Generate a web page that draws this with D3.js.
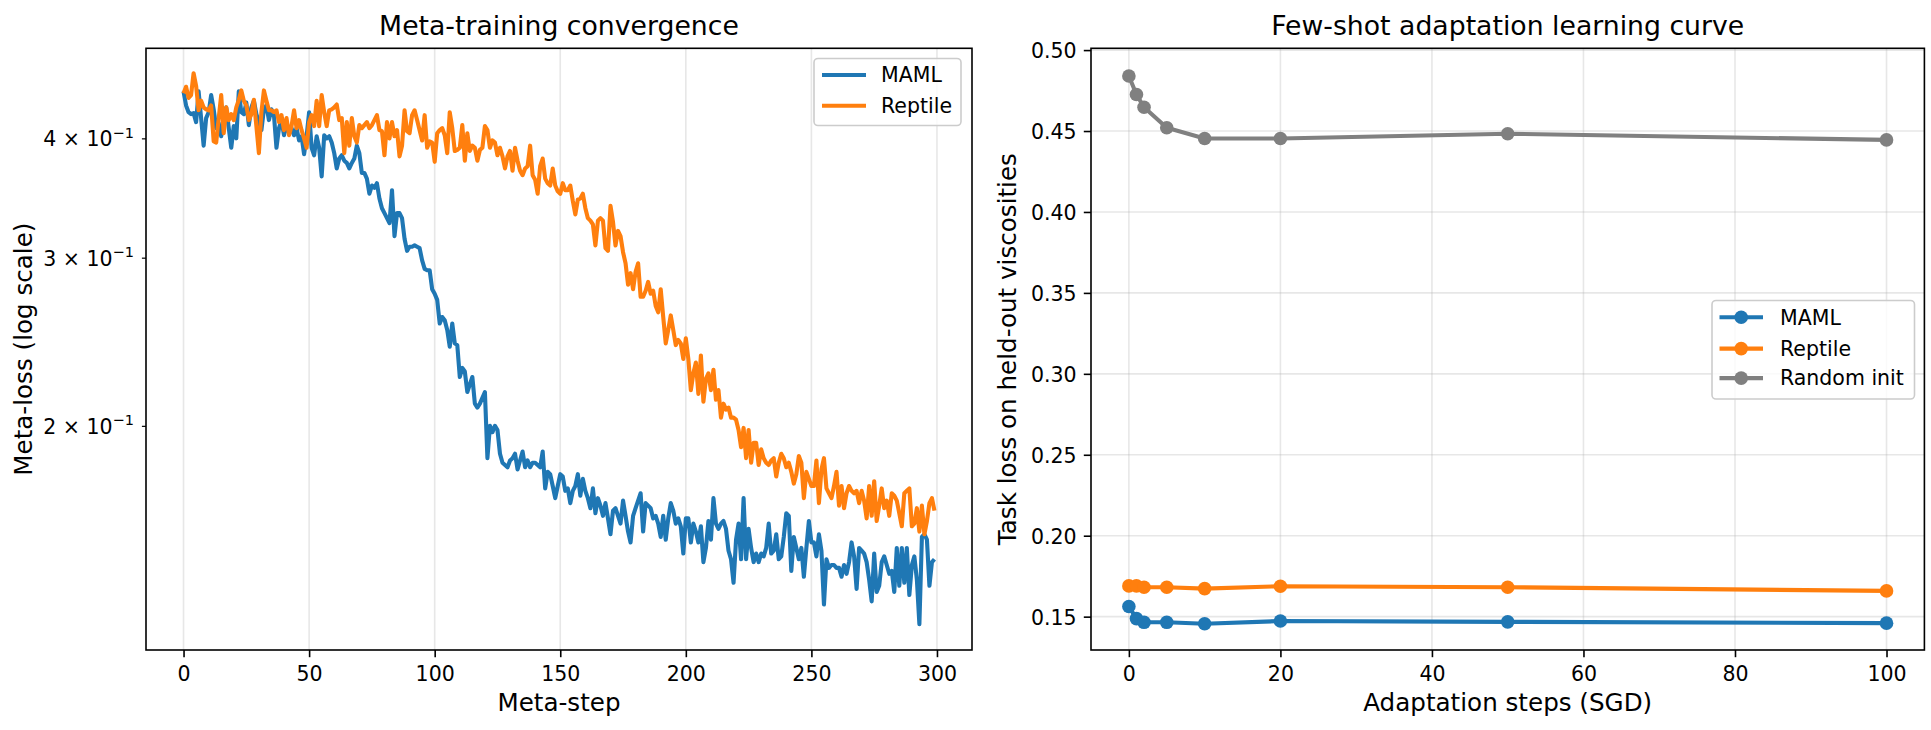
<!DOCTYPE html>
<html><head><meta charset="utf-8">
<script src="https://cdn.jsdelivr.net/npm/d3@7"></script>
<style>body{margin:0;background:#fff} svg{display:block} text{font-family:"DejaVu Sans",sans-serif}</style>
</head><body><svg id="c" width="1931" height="730"></svg>
<script>
// ---------- data ----------
const metaSteps = d3.range(300);
const mamlLoss = [
0.448,0.433,0.426,0.424,0.425,0.416,0.448,0.420,0.393,0.420,
0.426,0.444,0.429,0.410,0.415,0.402,0.418,0.431,0.410,0.391,
0.412,0.400,0.448,0.426,0.424,0.436,0.413,0.431,0.438,0.424,
0.416,0.408,0.429,0.433,0.418,0.429,0.423,0.391,0.410,0.418,
0.403,0.416,0.405,0.410,0.403,0.410,0.398,0.402,0.385,0.402,
0.426,0.391,0.384,0.402,0.391,0.365,0.403,0.400,0.402,0.396,
0.386,0.372,0.381,0.384,0.379,0.377,0.372,0.377,0.381,0.393,
0.386,0.368,0.368,0.363,0.350,0.357,0.355,0.359,0.346,0.338,
0.334,0.330,0.326,0.353,0.316,0.334,0.334,0.330,0.314,0.305,
0.308,0.308,0.309,0.308,0.307,0.298,0.292,0.291,0.291,0.278,
0.275,0.271,0.256,0.260,0.258,0.252,0.242,0.256,0.244,0.243,
0.225,0.230,0.228,0.217,0.221,0.225,0.211,0.209,0.211,0.214,
0.217,0.185,0.200,0.197,0.200,0.198,0.187,0.183,0.182,0.181,
0.184,0.185,0.187,0.180,0.184,0.188,0.181,0.184,0.181,0.183,
0.183,0.182,0.181,0.188,0.172,0.179,0.178,0.173,0.168,0.173,
0.178,0.177,0.171,0.172,0.166,0.171,0.173,0.178,0.169,0.176,
0.171,0.168,0.164,0.172,0.162,0.168,0.165,0.161,0.166,0.160,
0.154,0.163,0.164,0.161,0.158,0.167,0.161,0.155,0.151,0.161,
0.164,0.167,0.170,0.155,0.166,0.165,0.164,0.160,0.161,0.158,
0.153,0.161,0.152,0.160,0.166,0.163,0.158,0.160,0.157,0.147,
0.160,0.160,0.151,0.158,0.155,0.151,0.157,0.144,0.149,0.159,
0.152,0.168,0.158,0.156,0.158,0.159,0.156,0.148,0.145,0.137,
0.152,0.158,0.145,0.168,0.145,0.156,0.149,0.144,0.147,0.144,
0.147,0.146,0.149,0.158,0.147,0.148,0.154,0.145,0.146,0.153,
0.162,0.161,0.141,0.153,0.149,0.145,0.149,0.139,0.149,0.159,
0.151,0.151,0.146,0.154,0.148,0.130,0.145,0.142,0.143,0.143,
0.142,0.142,0.139,0.143,0.140,0.144,0.151,0.146,0.135,0.149,
0.148,0.147,0.144,0.138,0.131,0.147,0.134,0.136,0.144,0.146,
0.143,0.140,0.141,0.134,0.149,0.136,0.149,0.137,0.149,0.133,
0.143,0.146,0.138,0.124,0.153,0.154,0.152,0.136,0.144,0.145];
const reptileLoss = [
0.446,0.453,0.441,0.444,0.468,0.454,0.428,0.438,0.431,0.429,
0.428,0.433,0.397,0.396,0.420,0.444,0.405,0.431,0.418,0.424,
0.418,0.431,0.439,0.449,0.438,0.433,0.418,0.424,0.439,0.412,
0.386,0.426,0.449,0.438,0.428,0.428,0.426,0.428,0.416,0.423,
0.408,0.420,0.403,0.412,0.428,0.410,0.418,0.408,0.400,0.391,
0.416,0.423,0.412,0.438,0.412,0.444,0.426,0.412,0.428,0.429,
0.431,0.434,0.418,0.420,0.386,0.416,0.393,0.420,0.402,0.396,
0.413,0.410,0.413,0.416,0.410,0.413,0.418,0.423,0.408,0.407,
0.384,0.416,0.400,0.416,0.402,0.408,0.383,0.393,0.428,0.407,
0.405,0.423,0.428,0.418,0.408,0.398,0.423,0.391,0.397,0.396,
0.378,0.405,0.408,0.410,0.403,0.386,0.426,0.410,0.388,0.389,
0.391,0.413,0.379,0.405,0.388,0.393,0.391,0.379,0.389,0.391,
0.412,0.408,0.391,0.398,0.396,0.384,0.391,0.383,0.372,0.383,
0.388,0.370,0.391,0.379,0.370,0.366,0.372,0.374,0.393,0.366,
0.362,0.350,0.374,0.381,0.363,0.359,0.357,0.372,0.357,0.352,
0.350,0.359,0.353,0.353,0.357,0.344,0.333,0.345,0.346,0.350,
0.338,0.330,0.328,0.325,0.309,0.328,0.330,0.328,0.307,0.305,
0.340,0.327,0.309,0.320,0.316,0.304,0.296,0.281,0.289,0.278,
0.290,0.296,0.273,0.273,0.277,0.283,0.275,0.277,0.267,0.263,
0.278,0.260,0.244,0.252,0.261,0.252,0.243,0.246,0.244,0.235,
0.247,0.235,0.218,0.227,0.233,0.216,0.237,0.212,0.224,0.227,
0.218,0.229,0.213,0.218,0.204,0.211,0.208,0.209,0.204,0.204,
0.203,0.198,0.190,0.199,0.185,0.198,0.183,0.192,0.192,0.182,
0.189,0.185,0.183,0.182,0.184,0.185,0.177,0.183,0.187,0.185,
0.181,0.183,0.179,0.174,0.178,0.186,0.183,0.168,0.179,0.176,
0.173,0.173,0.184,0.166,0.180,0.185,0.172,0.170,0.168,0.173,
0.179,0.165,0.173,0.164,0.170,0.173,0.171,0.170,0.171,0.166,
0.171,0.167,0.160,0.173,0.161,0.175,0.159,0.165,0.172,0.164,
0.167,0.161,0.170,0.169,0.167,0.162,0.157,0.170,0.171,0.172,
0.157,0.158,0.164,0.155,0.165,0.154,0.159,0.166,0.168,0.163];

const adaptSteps   = [0, 1, 2, 5, 10, 20, 50, 100];
const adaptMaml    = [0.1563, 0.1488, 0.1465, 0.1465, 0.1456, 0.1473, 0.1468, 0.1460];
const adaptReptile = [0.1690, 0.1690, 0.1682, 0.1682, 0.1673, 0.1688, 0.1682, 0.1659];
const adaptRandom  = [0.4840, 0.4726, 0.4647, 0.4520, 0.4454, 0.4454, 0.4483, 0.4445];

const leftXTicks  = [0, 50, 100, 150, 200, 250, 300];
const leftYTicks  = [0.2, 0.3, 0.4];
const rightXTicks = [0, 20, 40, 60, 80, 100];
const rightYTicks = [0.15, 0.20, 0.25, 0.30, 0.35, 0.40, 0.45, 0.50];

const C_MAML = "#1f77b4", C_REP = "#ff7f0e", C_RAND = "#808080";

// ---------- layout ----------
const svg = d3.select("#c");
svg.append("rect").attr("width",1931).attr("height",730).attr("fill","#fff");
const L = {x0:146, x1:972, y0:48.3, y1:650};
const R = {x0:1091, x1:1924.4, y0:48.3, y1:650};
const FS_TICK = 20.5, FS_LAB = 24.6, FS_TITLE = 26.7;
const MR = 6.8;

const xL = d3.scaleLinear().domain([-14.95, 313.95]).range([L.x0, L.x1]);
const yL = d3.scaleLog().domain([0.1165, 0.497]).range([L.y1, L.y0]);
const xR = d3.scaleLinear().domain([-5, 105]).range([R.x0, R.x1]);
const yR = d3.scaleLinear().domain([0.1294, 0.5011]).range([R.y1, R.y0]);

function gridV(g, xs, ticks, A){
  g.selectAll(null).data(ticks).enter().append("line")
   .attr("x1",d=>xs(d)).attr("x2",d=>xs(d)).attr("y1",A.y0).attr("y2",A.y1)
   .attr("stroke","#b0b0b0").attr("stroke-opacity",0.3).attr("stroke-width",1.6);
}
function gridH(g, ys, ticks, A){
  g.selectAll(null).data(ticks).enter().append("line")
   .attr("y1",d=>ys(d)).attr("y2",d=>ys(d)).attr("x1",A.x0).attr("x2",A.x1)
   .attr("stroke","#b0b0b0").attr("stroke-opacity",0.3).attr("stroke-width",1.6);
}
function styleAxis(g, lw){
  g.select(".domain").remove();
  g.selectAll(".tick line").attr("stroke","#000").attr("stroke-width",lw);
  g.selectAll(".tick text").attr("font-size",FS_TICK).attr("fill","#000")
   .attr("font-family","DejaVu Sans, sans-serif");
}

// ---------- left panel ----------
const gl = svg.append("g");
gridV(gl, xL, leftXTicks, L);
const lineL = d3.line().x((d,i)=>xL(metaSteps[i])).y(d=>yL(d));
gl.append("path").datum(mamlLoss).attr("d",lineL).attr("fill","none")
  .attr("stroke",C_MAML).attr("stroke-width",4.1).attr("stroke-linejoin","round");
gl.append("path").datum(reptileLoss).attr("d",lineL).attr("fill","none")
  .attr("stroke",C_REP).attr("stroke-width",4.1).attr("stroke-linejoin","round");

const axLB = gl.append("g").attr("transform",`translate(0,${L.y1})`)
  .call(d3.axisBottom(xL).tickValues(leftXTicks).tickSize(7.2).tickPadding(9));
styleAxis(axLB, 1.6);
const axLL = gl.append("g").attr("transform",`translate(${L.x0},0)`)
  .call(d3.axisLeft(yL).tickValues(leftYTicks).tickSize(4.1).tickPadding(8));
styleAxis(axLL, 1.2);
axLL.selectAll(".tick text").each(function(d){
  const t = d3.select(this);
  const m = Math.round(d*10);
  t.text(null).attr("dy","0.36em");
  t.append("tspan").text(m + " \u00d7 10");
  t.append("tspan").attr("dy",-8.5).attr("font-size",14.5).text("\u22121");
});
gl.append("rect").attr("x",L.x0).attr("y",L.y0).attr("width",L.x1-L.x0).attr("height",L.y1-L.y0)
  .attr("fill","none").attr("stroke","#000").attr("stroke-width",1.6);

gl.append("text").attr("x",(L.x0+L.x1)/2).attr("y",35).attr("text-anchor","middle")
  .attr("font-size",FS_TITLE).text("Meta-training convergence");
gl.append("text").attr("x",(L.x0+L.x1)/2).attr("y",711).attr("text-anchor","middle")
  .attr("font-size",FS_LAB).text("Meta-step");
gl.append("text").attr("transform",`translate(32,${(L.y0+L.y1)/2}) rotate(-90)`)
  .attr("text-anchor","middle").attr("font-size",FS_LAB).text("Meta-loss (log scale)");

// left legend
const legL = gl.append("g");
legL.append("rect").attr("x",814).attr("y",58.5).attr("width",147).attr("height",67)
  .attr("rx",4).attr("fill","#fff").attr("fill-opacity",0.8).attr("stroke","#cccccc").attr("stroke-width",1.6);
[["MAML",C_MAML,75],["Reptile",C_REP,105.8]].forEach(([name,col,yy])=>{
  legL.append("line").attr("x1",822).attr("x2",866).attr("y1",yy).attr("y2",yy)
    .attr("stroke",col).attr("stroke-width",4.1);
  legL.append("text").attr("x",881).attr("y",yy).attr("dy","0.36em")
    .attr("font-size",FS_TICK).text(name);
});

// ---------- right panel ----------
const gr = svg.append("g");
gridV(gr, xR, rightXTicks, R);
gridH(gr, yR, rightYTicks, R);
const lineR = d3.line().x((d,i)=>xR(adaptSteps[i])).y(d=>yR(d));
[[adaptMaml,C_MAML],[adaptReptile,C_REP],[adaptRandom,C_RAND]].forEach(([arr,col])=>{
  gr.append("path").datum(arr).attr("d",lineR).attr("fill","none")
    .attr("stroke",col).attr("stroke-width",4.1).attr("stroke-linejoin","round");
  gr.selectAll(null).data(arr).enter().append("circle")
    .attr("cx",(d,i)=>xR(adaptSteps[i])).attr("cy",d=>yR(d)).attr("r",MR).attr("fill",col);
});
const axRB = gr.append("g").attr("transform",`translate(0,${R.y1})`)
  .call(d3.axisBottom(xR).tickValues(rightXTicks).tickSize(7.2).tickPadding(9));
styleAxis(axRB, 1.6);
const axRL = gr.append("g").attr("transform",`translate(${R.x0},0)`)
  .call(d3.axisLeft(yR).tickValues(rightYTicks).tickSize(7.2).tickPadding(7.2).tickFormat(d3.format(".2f")));
styleAxis(axRL, 1.6);
axRL.selectAll(".tick text").attr("dy","0.36em");
gr.append("rect").attr("x",R.x0).attr("y",R.y0).attr("width",R.x1-R.x0).attr("height",R.y1-R.y0)
  .attr("fill","none").attr("stroke","#000").attr("stroke-width",1.6);

gr.append("text").attr("x",(R.x0+R.x1)/2).attr("y",35).attr("text-anchor","middle")
  .attr("font-size",FS_TITLE).text("Few-shot adaptation learning curve");
gr.append("text").attr("x",(R.x0+R.x1)/2).attr("y",711).attr("text-anchor","middle")
  .attr("font-size",FS_LAB).text("Adaptation steps (SGD)");
gr.append("text").attr("transform",`translate(1016,${(R.y0+R.y1)/2}) rotate(-90)`)
  .attr("text-anchor","middle").attr("font-size",FS_LAB).text("Task loss on held-out viscosities");

// right legend
const legR = gr.append("g");
legR.append("rect").attr("x",1712).attr("y",300.5).attr("width",202.5).attr("height",98.5)
  .attr("rx",4).attr("fill","#fff").attr("fill-opacity",0.8).attr("stroke","#cccccc").attr("stroke-width",1.6);
[["MAML",C_MAML,317.3],["Reptile",C_REP,348.6],["Random init",C_RAND,378.1]].forEach(([name,col,yy])=>{
  legR.append("line").attr("x1",1719.5).attr("x2",1763).attr("y1",yy).attr("y2",yy)
    .attr("stroke",col).attr("stroke-width",4.1);
  legR.append("circle").attr("cx",1741.2).attr("cy",yy).attr("r",MR).attr("fill",col);
  legR.append("text").attr("x",1780).attr("y",yy).attr("dy","0.36em")
    .attr("font-size",FS_TICK).text(name);
});
</script></body></html>
